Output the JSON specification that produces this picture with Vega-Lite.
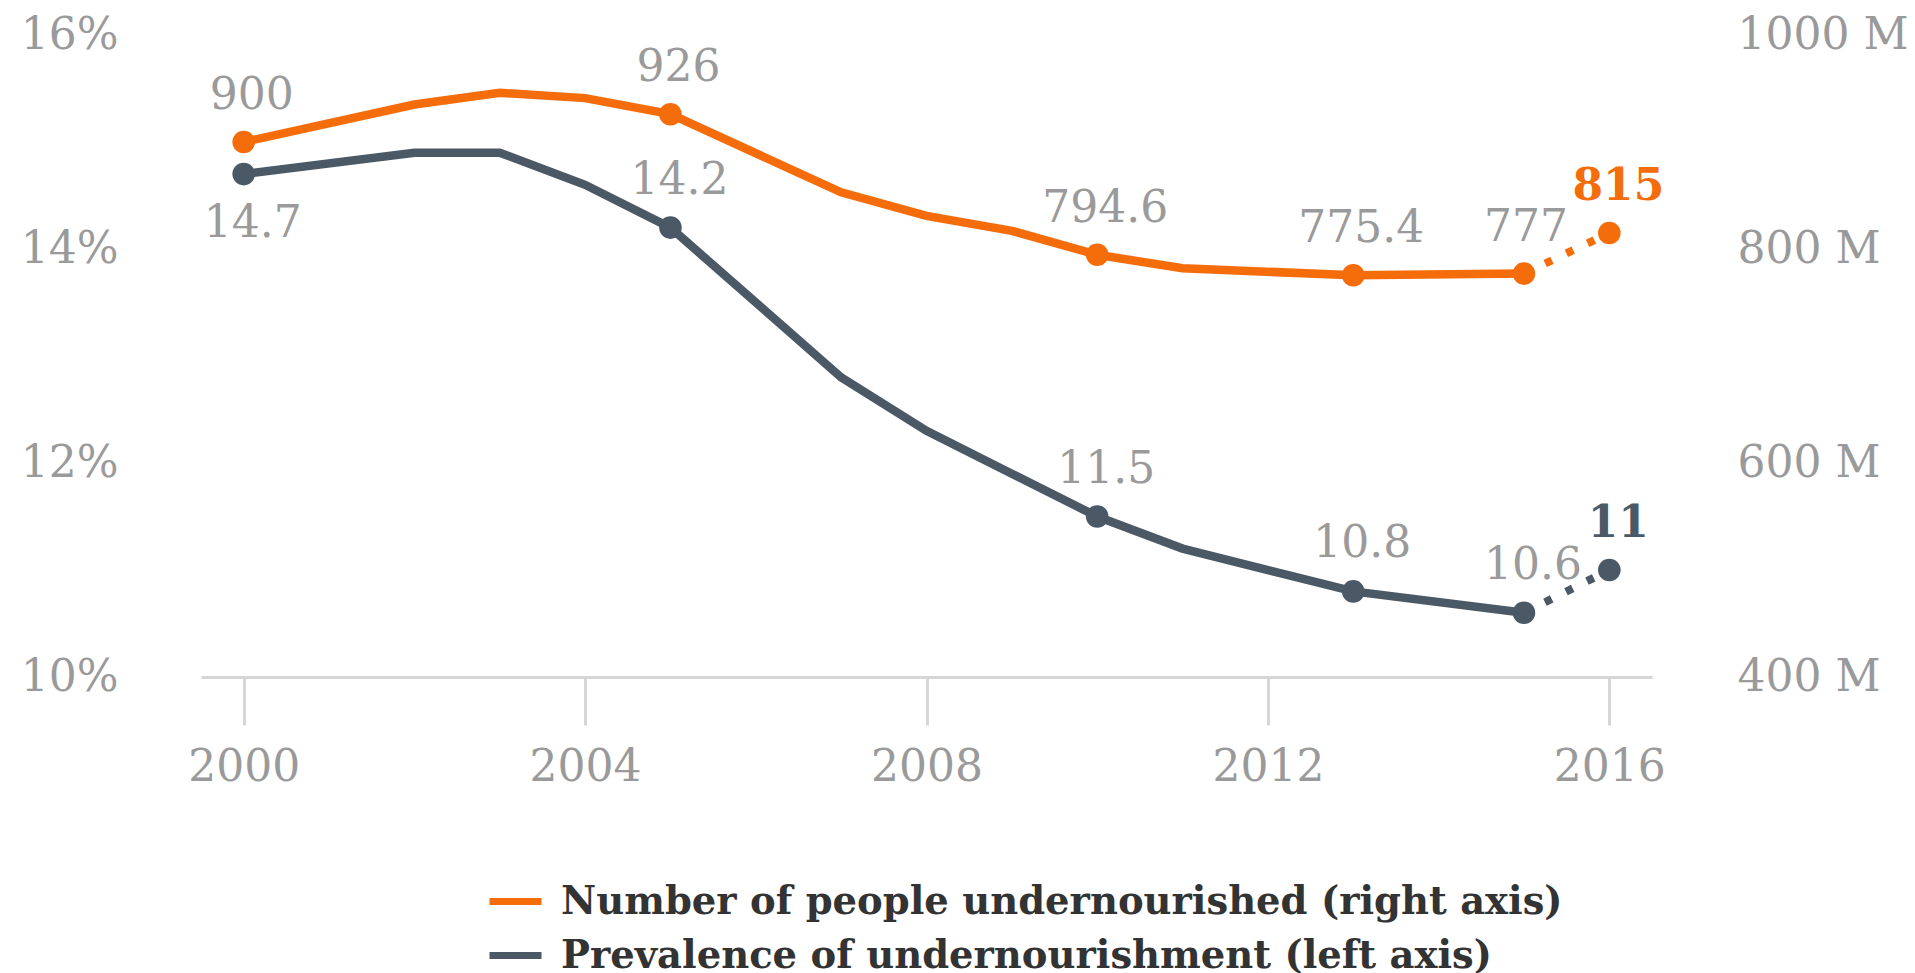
{
  "$schema": "https://vega.github.io/schema/vega-lite/v6.json",
  "width": 1451,
  "height": 642,
  "autosize": {"type": "none"},
  "padding": {"left": 201, "top": 35, "right": 263, "bottom": 296},
  "background": "white",
  "data": {
    "values": [
      {"year": 2000, "prevalence": 14.7, "people": 900},
      {"year": 2002, "prevalence": 14.9, "people": 935},
      {"year": 2003, "prevalence": 14.9, "people": 946},
      {"year": 2004, "prevalence": 14.6, "people": 941},
      {"year": 2005, "prevalence": 14.2, "people": 926},
      {"year": 2007, "prevalence": 12.8, "people": 853},
      {"year": 2008, "prevalence": 12.3, "people": 831},
      {"year": 2009, "prevalence": 11.9, "people": 817},
      {"year": 2010, "prevalence": 11.5, "people": 794.6},
      {"year": 2011, "prevalence": 11.2, "people": 782},
      {"year": 2013, "prevalence": 10.8, "people": 775.4},
      {"year": 2015, "prevalence": 10.6, "people": 777},
      {"year": 2016, "prevalence": 11, "people": 815}
    ]
  },
  "encoding": {
    "x": {
      "field": "year",
      "type": "quantitative",
      "scale": {"domain": [1999.5, 2016.5], "nice": false, "zero": false},
      "axis": {
        "values": [2000, 2004, 2008, 2012, 2016],
        "format": "d",
        "labelFlush": false,
        "domainColor": "#d6d6d6",
        "domainWidth": 3,
        "tickColor": "#d6d6d6",
        "tickWidth": 3,
        "tickSize": 48,
        "labelPadding": 20,
        "grid": false,
        "title": null
      }
    }
  },
  "layer": [
    {
      "encoding": {
        "y": {
          "field": "prevalence",
          "type": "quantitative",
          "scale": {"domain": [10, 16], "nice": false, "zero": false},
          "axis": {
            "orient": "left",
            "values": [10, 12, 14, 16],
            "labelExpr": "datum.value + '%'",
            "domain": false,
            "ticks": false,
            "grid": false,
            "title": null,
            "labelPadding": 83
          }
        }
      },
      "layer": [
        {
          "transform": [{"filter": "datum.year <= 2015"}],
          "mark": {"type": "line", "strokeWidth": 8.5},
          "encoding": {
            "color": {
              "datum": "Prevalence of undernourishment (left axis)",
              "type": "nominal",
              "scale": {
                "domain": ["Number of people undernourished (right axis)", "Prevalence of undernourishment (left axis)"],
                "range": ["#f56c0b", "#4b5966"]
              },
              "legend": {
                "orient": "none",
                "legendX": 285,
                "legendY": 837,
                "direction": "vertical",
                "title": null,
                "symbolType": "stroke",
                "symbolSize": 2704,
                "symbolStrokeWidth": 7,
                "labelFont": "DejaVu Serif",
                "labelFontWeight": "bold",
                "labelFontSize": 38.5,
                "labelColor": "#333333",
                "labelLimit": 1500,
                "rowPadding": 5,
                "labelOffset": 16
              }
            }
          }
        },
        {
          "transform": [{"filter": "datum.year >= 2015"}],
          "mark": {"type": "line", "strokeWidth": 8, "strokeDash": [7.5, 16], "color": "#4b5966"},
          "encoding": {}
        },
        {
          "transform": [{"filter": {"field": "year", "oneOf": [2000, 2005, 2010, 2013, 2015, 2016]}}],
          "mark": {"type": "circle", "size": 510, "opacity": 1, "color": "#4b5966"},
          "encoding": {}
        },
        {
          "transform": [{"filter": {"field": "year", "oneOf": [2005, 2010, 2013, 2015]}}],
          "mark": {"type": "text", "dy": -47, "dx": 9, "baseline": "middle", "align": "center", "font": "DejaVu Serif", "fontSize": 44, "color": "#9a9a9a"},
          "encoding": {"text": {"field": "prevalence", "type": "nominal"}}
        },
        {
          "transform": [{"filter": "datum.year == 2000"}],
          "mark": {"type": "text", "dy": 50, "dx": 9, "baseline": "middle", "align": "center", "font": "DejaVu Serif", "fontSize": 44, "color": "#9a9a9a"},
          "encoding": {"text": {"field": "prevalence", "type": "nominal"}}
        },
        {
          "transform": [{"filter": "datum.year == 2016"}],
          "mark": {"type": "text", "dy": -46, "dx": 9, "baseline": "middle", "align": "center", "font": "DejaVu Serif", "fontWeight": "bold", "fontSize": 44, "color": "#4b5966"},
          "encoding": {"text": {"field": "prevalence", "type": "nominal"}}
        }
      ]
    },
    {
      "encoding": {
        "y": {
          "field": "people",
          "type": "quantitative",
          "scale": {"domain": [400, 1000], "nice": false, "zero": false},
          "axis": {
            "orient": "right",
            "values": [400, 600, 800, 1000],
            "labelExpr": "datum.value + ' M'",
            "domain": false,
            "ticks": false,
            "grid": false,
            "title": null,
            "labelPadding": 85
          }
        }
      },
      "layer": [
        {
          "transform": [{"filter": "datum.year <= 2015"}],
          "mark": {"type": "line", "strokeWidth": 8.5},
          "encoding": {
            "color": {"datum": "Number of people undernourished (right axis)", "type": "nominal"}
          }
        },
        {
          "transform": [{"filter": "datum.year >= 2015"}],
          "mark": {"type": "line", "strokeWidth": 8, "strokeDash": [7.5, 16], "color": "#f56c0b"},
          "encoding": {}
        },
        {
          "transform": [{"filter": {"field": "year", "oneOf": [2000, 2005, 2010, 2013, 2015, 2016]}}],
          "mark": {"type": "circle", "size": 510, "opacity": 1, "color": "#f56c0b"},
          "encoding": {}
        },
        {
          "transform": [{"filter": {"field": "year", "oneOf": [2000, 2005, 2010, 2013]}}],
          "mark": {"type": "text", "dy": -46, "dx": 8, "baseline": "middle", "align": "center", "font": "DejaVu Serif", "fontSize": 44, "color": "#9a9a9a"},
          "encoding": {"text": {"field": "people", "type": "nominal"}}
        },
        {
          "transform": [{"filter": "datum.year == 2015"}],
          "mark": {"type": "text", "dy": -46, "dx": 2, "baseline": "middle", "align": "center", "font": "DejaVu Serif", "fontSize": 44, "color": "#9a9a9a"},
          "encoding": {"text": {"field": "people", "type": "nominal"}}
        },
        {
          "transform": [{"filter": "datum.year == 2016"}],
          "mark": {"type": "text", "dy": -46, "dx": 9, "baseline": "middle", "align": "center", "font": "DejaVu Serif", "fontWeight": "bold", "fontSize": 44, "color": "#f56c0b"},
          "encoding": {"text": {"field": "people", "type": "nominal"}}
        }
      ]
    }
  ],
  "resolve": {"scale": {"y": "independent"}},
  "config": {
    "view": {"stroke": null},
    "font": "DejaVu Serif",
    "axis": {
      "labelFont": "DejaVu Serif",
      "labelFontSize": 44,
      "labelColor": "#9a9a9a",
      "grid": false
    }
  }
}
